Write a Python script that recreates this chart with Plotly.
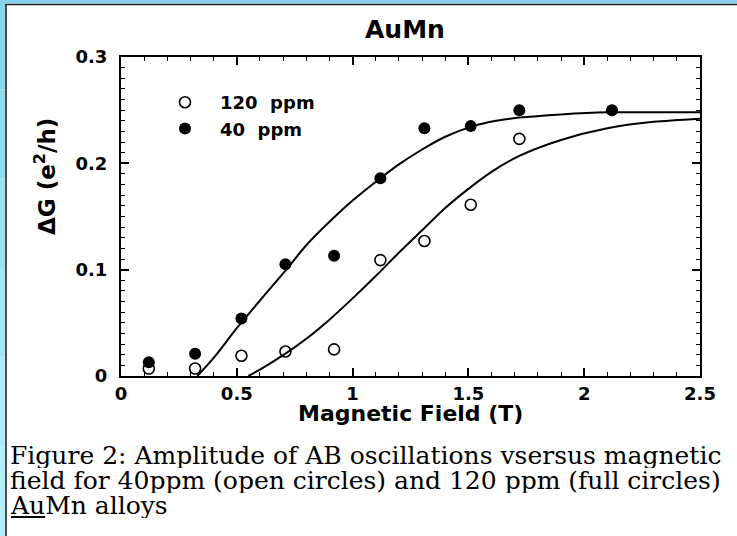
import plotly.graph_objects as go

# Measured amplitudes of the AB oscillations
field_40 = [0.12, 0.32, 0.52, 0.71, 0.92, 1.12, 1.31, 1.51, 1.72, 2.12]
dg_40 = [0.013, 0.021, 0.054, 0.105, 0.113, 0.186, 0.233, 0.235, 0.250, 0.250]

field_120 = [0.12, 0.32, 0.52, 0.71, 0.92, 1.12, 1.31, 1.51, 1.72]
dg_120 = [0.007, 0.007, 0.019, 0.023, 0.025, 0.109, 0.127, 0.161, 0.223]

# Fitted curves through each data set
fit_40_x = [0.33, 0.40, 0.50, 0.60, 0.71, 0.80, 0.90, 1.00, 1.12, 1.20, 1.30,
            1.40, 1.52, 1.62, 1.72, 1.90, 2.10, 2.30, 2.50]
fit_40_y = [0.000, 0.017, 0.045, 0.071, 0.099, 0.123, 0.145, 0.165, 0.186, 0.199,
            0.213, 0.225, 0.235, 0.240, 0.243, 0.246, 0.248, 0.248, 0.248]

fit_120_x = [0.55, 0.60, 0.71, 0.80, 0.90, 1.00, 1.10, 1.20, 1.30, 1.40, 1.50,
             1.60, 1.72, 1.90, 2.10, 2.30, 2.50]
fit_120_y = [0.000, 0.006, 0.021, 0.035, 0.053, 0.073, 0.094, 0.116, 0.137, 0.158,
             0.176, 0.192, 0.207, 0.222, 0.233, 0.239, 0.242]

x_ticks = [0, 0.5, 1, 1.5, 2, 2.5]
x_tick_text = ["0", "0.5", "1", "1.5", "2", "2.5"]
y_ticks = [0, 0.1, 0.2, 0.3]
y_tick_text = ["0", "0.1", "0.2", "0.3"]

W, H = 737, 536
L, R, T, B = 121, 700, 57, 376  # plot area in pixels


def px(x):
    return (x - L) / (R - L)


def py(y):
    return (B - y) / (B - T)


SANS = "DejaVu Sans"
SERIF = "DejaVu Serif"

fig = go.Figure()

fit_line = dict(color="black", width=2, shape="spline", smoothing=0.8)
fig.add_trace(go.Scatter(x=fit_40_x, y=fit_40_y, mode="lines", line=fit_line,
                         showlegend=False, hoverinfo="skip"))
fig.add_trace(go.Scatter(x=fit_120_x, y=fit_120_y, mode="lines", line=fit_line,
                         showlegend=False, hoverinfo="skip"))

fig.add_trace(go.Scatter(x=field_120, y=dg_120, mode="markers", name="120  ppm",
                         marker=dict(symbol="circle-open", size=11, color="black",
                                     line=dict(width=1.6, color="black")),
                         cliponaxis=False))
fig.add_trace(go.Scatter(x=field_40, y=dg_40, mode="markers", name="40  ppm",
                         marker=dict(symbol="circle", size=12, color="black"),
                         cliponaxis=False))

axis_common = dict(
    showline=True, linecolor="black", linewidth=2, mirror="allticks",
    ticks="inside", ticklen=8, tickwidth=1.5, tickcolor="black",
    showgrid=False, zeroline=False,
    tickfont=dict(family=SANS, size=18, color="black", weight="bold"),
)

fig.update_xaxes(range=[0, 2.5], tickmode="array", tickvals=x_ticks, ticktext=x_tick_text,
                 minor=dict(ticks="inside", dtick=0.1, tick0=0, ticklen=4, tickwidth=1, tickcolor="black"),
                 ticklabelstandoff=0, **axis_common)
fig.update_yaxes(range=[0, 0.3], tickmode="array", tickvals=y_ticks, ticktext=y_tick_text,
                 minor=dict(ticks="inside", dtick=0.01, tick0=0, ticklen=4, tickwidth=1, tickcolor="black"),
                 ticklabelstandoff=8, **axis_common)

# light blue frame: left strip shades from deeper cyan at the top to paler at the bottom
strip_colors = ["#8ad6ef", "#92dcf1", "#9be1f3", "#a4e6f5", "#acebf7", "#b3eff8"]
band = H / len(strip_colors)
shapes = []
for i, c in enumerate(strip_colors):
    shapes.append(dict(type="rect", xref="paper", yref="paper", x0=px(0), x1=px(5),
                       y0=py(band * (i + 1)), y1=py(band * i),
                       fillcolor=c, line=dict(width=0), layer="below"))
shapes += [
    dict(type="rect", xref="paper", yref="paper", x0=px(0), x1=px(W), y0=py(3.5), y1=py(0),
         fillcolor="#86d4ee", line=dict(width=0), layer="below"),
    # dark rule inside the frame
    dict(type="line", xref="paper", yref="paper", x0=px(6), x1=px(6), y0=py(H), y1=py(4.5),
         line=dict(color="#222222", width=1.6)),
    dict(type="line", xref="paper", yref="paper", x0=px(5), x1=px(W), y0=py(4.5), y1=py(4.5),
         line=dict(color="#222222", width=1.6)),
]

caption_font = dict(family=SERIF, size=25, color="black")
annotations = [
    dict(text="<b>AuMn</b>", x=px(405), y=py(30), xref="paper", yref="paper", showarrow=False,
         xanchor="center", yanchor="middle", font=dict(family=SANS, size=25, color="black")),
    dict(text="<b>Magnetic Field (T)</b>", x=px(410), y=py(413), xref="paper", yref="paper", showarrow=False,
         xanchor="center", yanchor="middle", font=dict(family=SANS, size=22, color="black")),
    dict(text="<b>ΔG (e<sup>2</sup>/h)</b>", x=px(45), y=py(176), xref="paper", yref="paper", showarrow=False,
         textangle=-90, xanchor="center", yanchor="middle", font=dict(family=SANS, size=23, color="black")),
    dict(text="Figure 2: Amplitude of AB oscillations vsersus magnetic", x=px(8), y=py(455),
         xref="paper", yref="paper", showarrow=False, xanchor="left", yanchor="middle",
         height=25, font=caption_font),
    dict(text="field for 40ppm (open circles) and 120 ppm (full circles)", x=px(8), y=py(480),
         xref="paper", yref="paper", showarrow=False, xanchor="left", yanchor="middle",
         height=25, font=caption_font),
    dict(text="<u>Au</u>Mn alloys", x=px(8), y=py(505),
         xref="paper", yref="paper", showarrow=False, xanchor="left", yanchor="middle",
         height=25, font=caption_font),
]

fig.update_layout(
    width=W, height=H, autosize=False,
    margin=dict(l=L, r=W - R, t=T, b=H - B),
    paper_bgcolor="white", plot_bgcolor="white",
    shapes=shapes, annotations=annotations,
    showlegend=True,
    legend=dict(x=px(150), y=py(84), xanchor="left", yanchor="top", bgcolor="rgba(0,0,0,0)",
                itemwidth=60, tracegroupgap=0,
                font=dict(family=SANS, size=18, color="black", weight="bold")),
)

fig.write_html("out.html")
